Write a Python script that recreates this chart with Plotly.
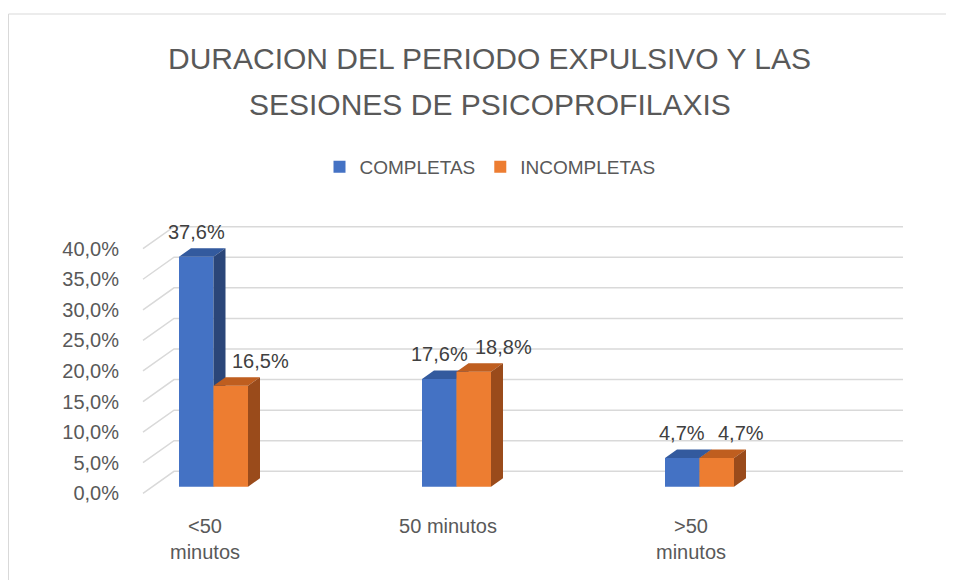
import plotly.graph_objects as go

# ---------------- data ----------------
categories = ["<50<br>minutos", "50 minutos", ">50<br>minutos"]
series_names = ["COMPLETAS", "INCOMPLETAS"]
completas = [37.6, 17.6, 4.7]
incompletas = [16.5, 18.8, 4.7]
y_ticks = [0, 5, 10, 15, 20, 25, 30, 35, 40]
title_lines = ["DURACION DEL PERIODO EXPULSIVO Y LAS", "SESIONES DE PSICOPROFILAXIS"]

# ---------------- style / geometry (pixels, page coordinates) ----------------
W, H = 954, 580
PAGE_OFF = 8  # default body margin of the html page
FIG_W, FIG_H = W - PAGE_OFF, H - PAGE_OFF
PLOT_L, PLOT_R, PLOT_T, PLOT_B = 140, 906, 215, 500
PX_PER_CAT = 243.0
CAT0_PX = 205.0
ZERO_PX = 493.3
PX_PER_PCT = 6.116

FONT = "Liberation Sans"
TXT = "#595959"
LBL = "#404040"
GRID = "#d9d9d9"
FRONT = ["#4472c4", "#ed7d31"]
TOP = ["#335a9e", "#bf5e1f"]
SIDE = ["#2b4679", "#9a4b1b"]


def ux(px):
    return px / PX_PER_CAT


def uy(px):
    return px / PX_PER_PCT


# 3D offsets
BACK_DX, BACK_DY = ux(31), uy(22)      # back wall relative to front plane
BAR_DX, BAR_DY = ux(8.5), uy(6.6)      # bar front plane relative to front plane
DEP_DX, DEP_DY = ux(12), uy(8.5)       # bar depth
BAR_W = ux(34.5)
GRID_X0 = ux(143 - CAT0_PX)
GRID_X1 = ux(903 - CAT0_PX)

xa = ux(PLOT_L - CAT0_PX)
xb = ux(PLOT_R - CAT0_PX)
ya = uy(ZERO_PX - PLOT_B)
yb = uy(ZERO_PX - PLOT_T)

fig = go.Figure()

# gridlines (side wall diagonal + back wall horizontal)
gx, gy = [], []
for t in y_ticks:
    gx += [GRID_X0, GRID_X0 + BACK_DX, GRID_X1, None]
    gy += [t, t + BACK_DY, t + BACK_DY, None]
fig.add_trace(go.Scatter(x=gx, y=gy, mode="lines", line=dict(color=GRID, width=1.5),
                         hoverinfo="skip", showlegend=False, zorder=0))

all_series = [completas, incompletas]
offsets = [BAR_DX - BAR_W, BAR_DX]
idx = list(range(len(categories)))

for s, vals in enumerate(all_series):
    fig.add_trace(go.Bar(
        x=idx, y=vals, base=[BAR_DY] * len(vals), width=BAR_W, offset=offsets[s],
        name=series_names[s], marker=dict(color=FRONT[s], line=dict(width=0)),
        zorder=1 + 2 * s, hoverinfo="skip"))
    tx, ty, sx, sy = [], [], [], []
    for i, v in zip(idx, vals):
        xl = i + offsets[s]
        xr = xl + BAR_W
        top = BAR_DY + v
        tx += [xl, xr, xr + DEP_DX, xl + DEP_DX, xl, None]
        ty += [top, top, top + DEP_DY, top + DEP_DY, top, None]
        sx += [xr, xr, xr + DEP_DX, xr + DEP_DX, xr, None]
        sy += [BAR_DY, top, top + DEP_DY, BAR_DY + DEP_DY, BAR_DY, None]
    fig.add_trace(go.Scatter(x=tx, y=ty, mode="lines", fill="toself", fillcolor=TOP[s],
                             line=dict(width=0, color=TOP[s]), hoverinfo="skip",
                             showlegend=False, zorder=2 + 2 * s))
    fig.add_trace(go.Scatter(x=sx, y=sy, mode="lines", fill="toself", fillcolor=SIDE[s],
                             line=dict(width=0, color=SIDE[s]), hoverinfo="skip",
                             showlegend=False, zorder=2 + 2 * s))

# data labels
annotations = []
for s, vals in enumerate(all_series):
    for i, v in zip(idx, vals):
        xc = i + offsets[s] + BAR_W / 2
        annotations.append(dict(
            x=xc if s == 0 else xc - ux(1), y=BAR_DY + v, xref="x", yref="y",
            text=(f"{v:.1f}%").replace(".", ","), showarrow=False,
            xanchor="center" if s == 0 else "left", yanchor="middle", yshift=25,
            font=dict(family=FONT, size=20, color=LBL)))

# title lines
pw = PLOT_R - PLOT_L
ph = PLOT_B - PLOT_T
for line, ypx in zip(title_lines, [58, 105]):
    annotations.append(dict(
        x=(489.5 - PLOT_L) / pw, y=(PLOT_B - ypx) / ph, xref="paper", yref="paper",
        text=line, showarrow=False, xanchor="center", yanchor="middle",
        font=dict(family=FONT, size=30, color=TXT)))

# chart border
shapes = [dict(type="rect", xref="paper", yref="paper",
               x0=(PAGE_OFF + 0.5 - PLOT_L) / pw, x1=(975 - PLOT_L) / pw,
               y0=(PLOT_B - 600) / ph, y1=(PLOT_B - 14) / ph,
               line=dict(color=GRID, width=1), fillcolor="rgba(0,0,0,0)", layer="below")]

fig.update_layout(
    width=FIG_W, height=FIG_H,
    margin=dict(l=PLOT_L - PAGE_OFF, r=W - PLOT_R,
                t=PLOT_T - PAGE_OFF, b=H - PLOT_B, pad=0),
    paper_bgcolor="white", plot_bgcolor="white",
    barmode="overlay",
    separators=",.",
    font=dict(family=FONT, size=20, color=TXT),
    showlegend=True,
    legend=dict(orientation="h", xref="container", yref="container",
                x=(490 - PAGE_OFF) / FIG_W, y=1 - (167 - PAGE_OFF) / FIG_H,
                xanchor="center", yanchor="middle",
                font=dict(family=FONT, size=19, color=TXT), itemclick=False),
    xaxis=dict(range=[xa, xb], tickmode="array", tickvals=idx, ticktext=categories,
               showgrid=False, zeroline=False, showline=False, ticks="",
               tickfont=dict(family=FONT, size=20, color=TXT), ticklabelstandoff=12),
    yaxis=dict(range=[ya, yb], tickmode="array", tickvals=y_ticks,
               ticktext=[(f"{t:.1f}%").replace(".", ",") for t in y_ticks],
               showgrid=False, zeroline=False, showline=False, ticks="",
               tickfont=dict(family=FONT, size=20, color=TXT), ticklabelstandoff=20),
    annotations=annotations,
    shapes=shapes,
)

fig.write_html("out.html")
